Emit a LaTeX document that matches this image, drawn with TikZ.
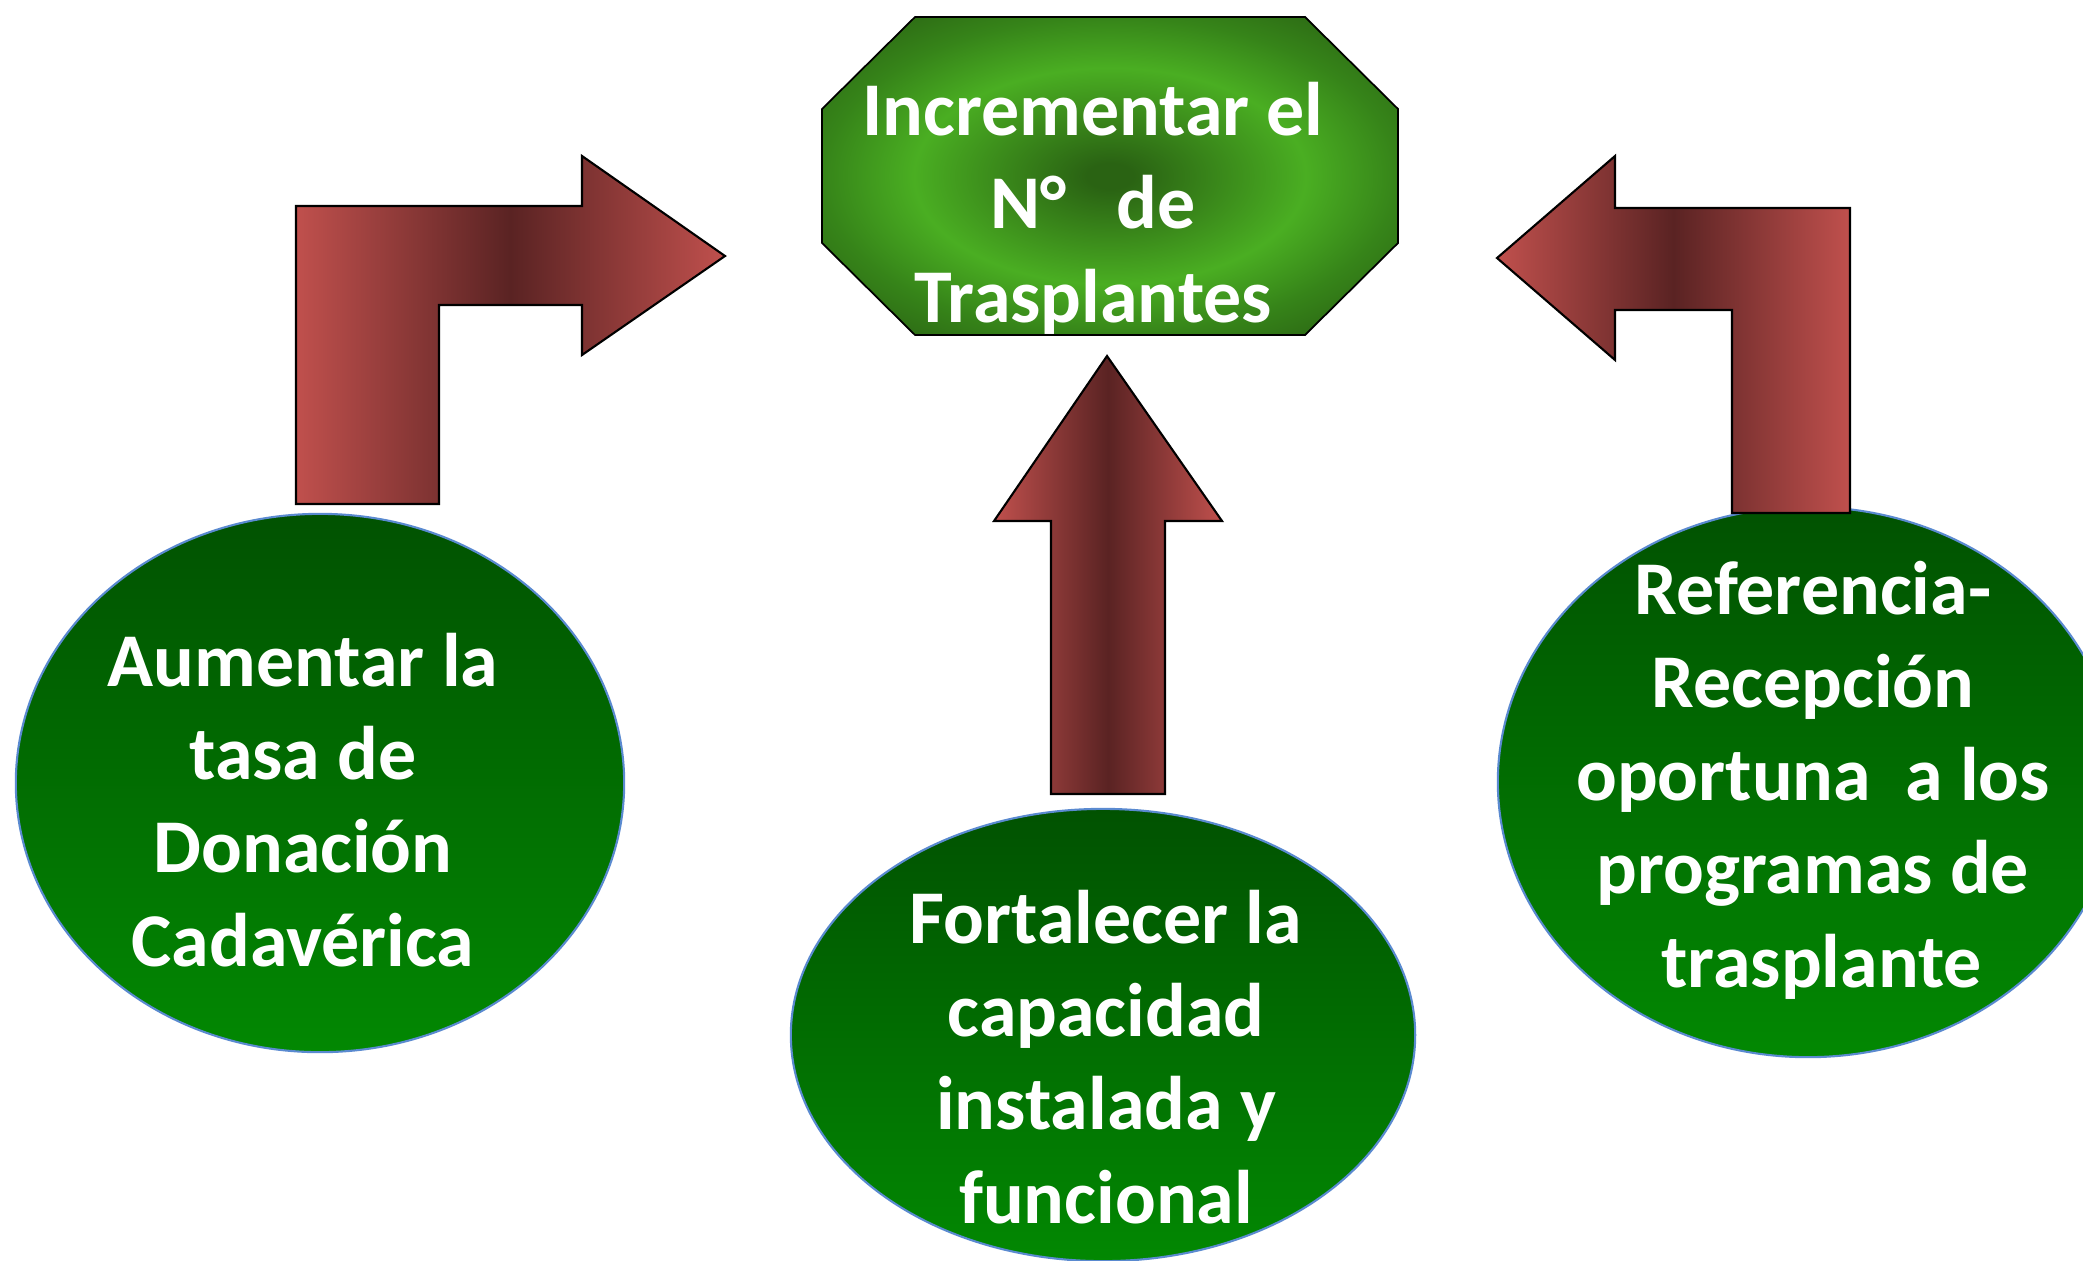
\documentclass[tikz,border=0pt]{standalone}
\usepackage{fontspec}
\setmainfont{Carlito}
\usetikzlibrary{shapes.geometric}
\definecolor{lred}{HTML}{C0504D}
\definecolor{dred}{HTML}{5A2323}
\definecolor{gtop}{HTML}{015201}
\definecolor{gbot}{HTML}{028802}
\definecolor{obright}{HTML}{4AAE22}
\definecolor{odark}{HTML}{2A6313}
\definecolor{omid}{HTML}{368419}
\definecolor{eline}{HTML}{5A8AD0}
\pgfdeclarehorizontalshading{arrowshade}{100bp}{color(0bp)=(lred); color(25bp)=(lred); color(50bp)=(dred); color(75bp)=(lred); color(100bp)=(lred)}
\pgfdeclareradialshading{octshade}{\pgfpoint{0bp}{0bp}}{color(0bp)=(odark); color(2bp)=(odark); color(17bp)=(obright); color(25bp)=(omid); color(33bp)=(odark); color(50bp)=(odark)}
\tikzset{
  barrow/.style={shade, shading=arrowshade, draw=black, line width=0.6pt, line join=miter},
  octbox/.style={shade, shading=octshade, draw=black, line width=0.5pt},
  goal/.style={ellipse, shade, top color=gtop, bottom color=gbot, draw=eline, line width=0.6pt, inner sep=0pt},
  lbl/.style={text=white, font=\fontsize{21.6}{26.46}\selectfont\bfseries, align=center, inner sep=0pt},
}
\begin{document}
\begin{tikzpicture}[x=0.01cm,y=-0.01cm]
\path[use as bounding box, clip] (0,0) rectangle (2083,1260);
\fill[white] (0,0) rectangle (2083,1260);
% goal octagon
\path[octbox] (915,17) -- (1305,17) -- (1398,109) -- (1398,243) -- (1305,335) -- (915,335) -- (822,243) -- (822,109) -- cycle;
% ellipses
\node[goal, minimum width=6.08cm, minimum height=5.38cm] (e1) at (320,783) {};
\node[goal, minimum width=6.24cm, minimum height=4.52cm] (e2) at (1103,1035) {};
\node[goal, minimum width=6.20cm, minimum height=5.50cm] (e3) at (1808,782) {};
% arrows
\path[barrow] (296,504) -- (296,206) -- (582,206) -- (582,156) -- (725,256) -- (582,355) -- (582,305) -- (439,305) -- (439,504) -- cycle;
\path[barrow] (1051,794) -- (1051,521) -- (994,521) -- (1107,356) -- (1222,521) -- (1165,521) -- (1165,794) -- cycle;
\path[barrow] (1850,513) -- (1850,208) -- (1615,208) -- (1615,156) -- (1497,258) -- (1615,360) -- (1615,310) -- (1732,310) -- (1732,513) -- cycle;
% texts
\node[lbl, anchor=base] (top) at (1093,322) {Incrementar el\\N°\hspace{0.5cm}de\\Trasplantes};
\node[lbl, anchor=base] (t1) at (303,966) {Aumentar la\\tasa de\\Donación\\Cadavérica};
\node[lbl, anchor=base] (t2) at (1106,1223) {Fortalecer la\\capacidad\\instalada y\\funcional};
\node[lbl, anchor=base] (t3) at (1813,987) {Referencia-\\Recepción\\oportuna\ \ a los\\programas de\\\ trasplante};
\end{tikzpicture}
\end{document}
